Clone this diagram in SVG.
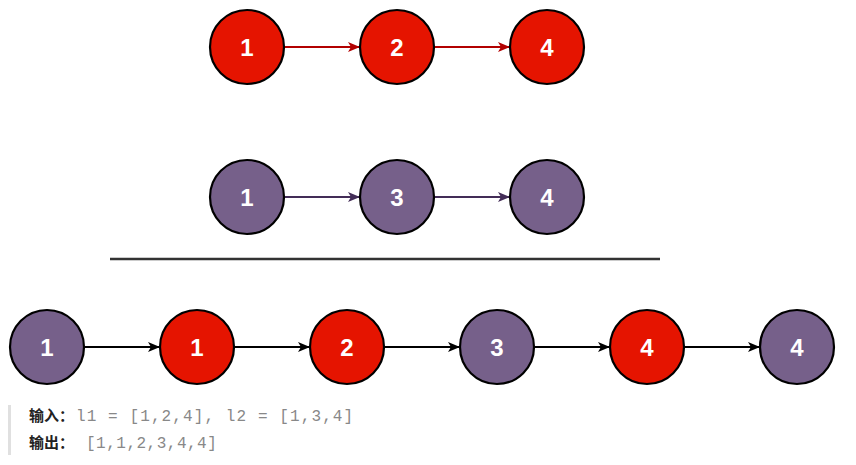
<svg xmlns="http://www.w3.org/2000/svg" width="856" height="465" viewBox="0 0 856 465">
<style>
.red{fill:#e51400;stroke:#000;stroke-width:2.2}
.pur{fill:#76608a;stroke:#000;stroke-width:2.2}
.num{font-family:"Liberation Sans",Arial,sans-serif;font-weight:bold;font-size:24px;fill:#fff;text-anchor:middle}
.lbl{font-family:"Noto Sans CJK SC",sans-serif;font-weight:bold;font-size:15px;fill:#222}
.code{font-family:"Liberation Mono",monospace;font-size:16px;fill:#888;letter-spacing:1.1px}
</style>
<defs>
<marker id="aR" viewBox="0 0 12 10" refX="11" refY="5" markerWidth="12" markerHeight="10" markerUnits="userSpaceOnUse" orient="auto"><path d="M0,0 L12,5 L0,10 L3,5 Z" fill="#b20000"/></marker>
<marker id="aP" viewBox="0 0 12 10" refX="11" refY="5" markerWidth="12" markerHeight="10" markerUnits="userSpaceOnUse" orient="auto"><path d="M0,0 L12,5 L0,10 L3,5 Z" fill="#432d57"/></marker>
<marker id="aK" viewBox="0 0 12 10" refX="11" refY="5" markerWidth="12" markerHeight="10" markerUnits="userSpaceOnUse" orient="auto"><path d="M0,0 L12,5 L0,10 L3,5 Z" fill="#000"/></marker>
</defs>
<g id="connectors">
<line x1="285" y1="47" x2="359" y2="47" stroke="#b20000" stroke-width="2" marker-end="url(#aR)"/>
<line x1="435" y1="47" x2="509" y2="47" stroke="#b20000" stroke-width="2" marker-end="url(#aR)"/>
<line x1="285" y1="197" x2="359" y2="197" stroke="#432d57" stroke-width="2" marker-end="url(#aP)"/>
<line x1="435" y1="197" x2="509" y2="197" stroke="#432d57" stroke-width="2" marker-end="url(#aP)"/>
<line x1="85" y1="347" x2="159" y2="347" stroke="#000" stroke-width="2" marker-end="url(#aK)"/>
<line x1="235" y1="347" x2="309" y2="347" stroke="#000" stroke-width="2" marker-end="url(#aK)"/>
<line x1="385" y1="347" x2="459" y2="347" stroke="#000" stroke-width="2" marker-end="url(#aK)"/>
<line x1="535" y1="347" x2="609" y2="347" stroke="#000" stroke-width="2" marker-end="url(#aK)"/>
<line x1="685" y1="347" x2="759" y2="347" stroke="#000" stroke-width="2" marker-end="url(#aK)"/>
</g>
<g id="a1"><circle class="red" cx="247" cy="47" r="37"/><text class="num" x="247" y="56">1</text></g>
<g id="a2"><circle class="red" cx="397" cy="47" r="37"/><text class="num" x="397" y="56">2</text></g>
<g id="a4"><circle class="red" cx="547" cy="47" r="37"/><text class="num" x="547" y="56">4</text></g>
<g id="b1"><circle class="pur" cx="247" cy="197" r="37"/><text class="num" x="247" y="206">1</text></g>
<g id="b3"><circle class="pur" cx="397" cy="197" r="37"/><text class="num" x="397" y="206">3</text></g>
<g id="b4"><circle class="pur" cx="547" cy="197" r="37"/><text class="num" x="547" y="206">4</text></g>
<g id="divider"><line x1="110" y1="259" x2="660" y2="259" stroke="#333" stroke-width="2.5"/></g>
<g id="c1"><circle class="pur" cx="47" cy="347" r="37"/><text class="num" x="47" y="356">1</text></g>
<g id="c2"><circle class="red" cx="197" cy="347" r="37"/><text class="num" x="197" y="356">1</text></g>
<g id="c3"><circle class="red" cx="347" cy="347" r="37"/><text class="num" x="347" y="356">2</text></g>
<g id="c4"><circle class="pur" cx="497" cy="347" r="37"/><text class="num" x="497" y="356">3</text></g>
<g id="c5"><circle class="red" cx="647" cy="347" r="37"/><text class="num" x="647" y="356">4</text></g>
<g id="c6"><circle class="pur" cx="797" cy="347" r="37"/><text class="num" x="797" y="356">4</text></g>
<g id="example">
<rect x="8" y="405" width="3" height="50" fill="#e0e0e0"/>
<text class="lbl" x="29" y="421">输入：</text>
<text class="code" x="76" y="421">l1 = [1,2,4], l2 = [1,3,4]</text>
<text class="lbl" x="29" y="448">输出：</text>
<text class="code" x="86" y="448" style="letter-spacing:0.5px">[1,1,2,3,4,4]</text>
</g>
</svg>
